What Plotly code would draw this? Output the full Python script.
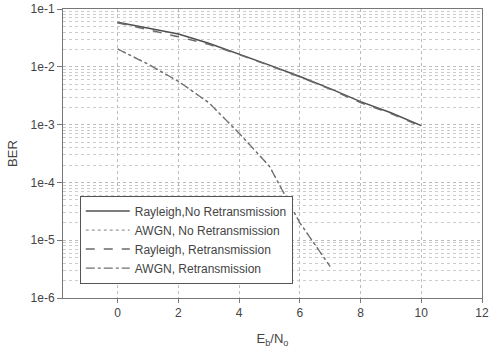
import plotly.graph_objects as go

snr = [0, 1, 2, 3, 4, 5, 6, 7, 8, 9, 10]
rayleigh_no_retx = [0.059, 0.047, 0.037, 0.0255, 0.0166, 0.0107, 0.0068, 0.0042, 0.0025, 0.0016, 0.00096]
rayleigh_retx = [0.058, 0.044, 0.033, 0.0245, 0.0163, 0.0105, 0.0067, 0.0041, 0.0024, 0.00155, 0.00093]
snr_awgn = [0, 1, 2, 3, 4, 5, 6, 7]
awgn_no_retx = [0.0204, 0.0112, 0.0056, 0.0024, 0.00071, 0.00019, 0.00002, 0.0000035]
awgn_retx = [0.0203, 0.0111, 0.0056, 0.0024, 0.00071, 0.00019, 0.00002, 0.0000035]

y_ticks = [1e-6, 1e-5, 1e-4, 1e-3, 1e-2, 1e-1]
y_tick_labels = ["1e-6", "1e-5", "1e-4", "1e-3", "1e-2", "1e-1"]
x_ticks = [0, 2, 4, 6, 8, 10, 12]

fig = go.Figure()
fig.add_trace(go.Scatter(x=snr, y=rayleigh_no_retx, mode="lines",
                         name="Rayleigh,No Retransmission",
                         line=dict(color="#505050", width=1.5, dash="solid")))
fig.add_trace(go.Scatter(x=snr_awgn, y=awgn_no_retx, mode="lines",
                         name="AWGN, No Retransmission",
                         line=dict(color="#9a9a9a", width=1.2, dash="dot")))
fig.add_trace(go.Scatter(x=snr, y=rayleigh_retx, mode="lines",
                         name="Rayleigh, Retransmission",
                         line=dict(color="#6a6a6a", width=1.5, dash="dash")))
fig.add_trace(go.Scatter(x=snr_awgn, y=awgn_retx, mode="lines",
                         name="AWGN, Retransmission",
                         line=dict(color="#707070", width=1.3, dash="dashdot")))

fig.update_layout(
    width=489, height=353,
    margin=dict(l=63, r=7, t=9, b=55, autoexpand=False),
    paper_bgcolor="white", plot_bgcolor="white",
    font=dict(family="Liberation Sans, Arial, sans-serif", size=12, color="#444444"),
    showlegend=True,
    legend=dict(x=0.04, y=0.05, xanchor="left", yanchor="bottom",
                bgcolor="white", bordercolor="#555555", borderwidth=1,
                font=dict(size=12, color="#444444"),
                tracegroupgap=0, itemwidth=44),
)
fig.update_xaxes(
    range=[-1.8, 12], tickvals=x_ticks, automargin=False,
    ticklabeloverflow="allow",
    showline=True, linecolor="#777777", linewidth=1, mirror=True,
    ticks="outside", ticklen=4, tickcolor="#777777",
    showgrid=True, gridcolor="#bbbbbb", griddash="dot", gridwidth=1,
    zeroline=False,
    title=dict(text="E<sub>b</sub>/N<sub>o</sub>", font=dict(size=13), standoff=14),
)
fig.update_yaxes(
    type="log", range=[-6, -1], tickvals=y_ticks, ticktext=y_tick_labels,
    automargin=False, ticklabeloverflow="allow",
    showline=True, linecolor="#777777", linewidth=1, mirror=True,
    ticks="outside", ticklen=5, tickcolor="#777777",
    showgrid=True, gridcolor="#bbbbbb", griddash="dot", gridwidth=1,
    minor=dict(dtick="D1", showgrid=True, gridcolor="#cccccc", griddash="dot", gridwidth=1, ticks=""),
    zeroline=False,
    title=dict(text="BER", font=dict(size=13), standoff=10),
)

fig.write_html("out.html", config={"displayModeBar": False},
               post_script="document.body.style.margin='0';")
